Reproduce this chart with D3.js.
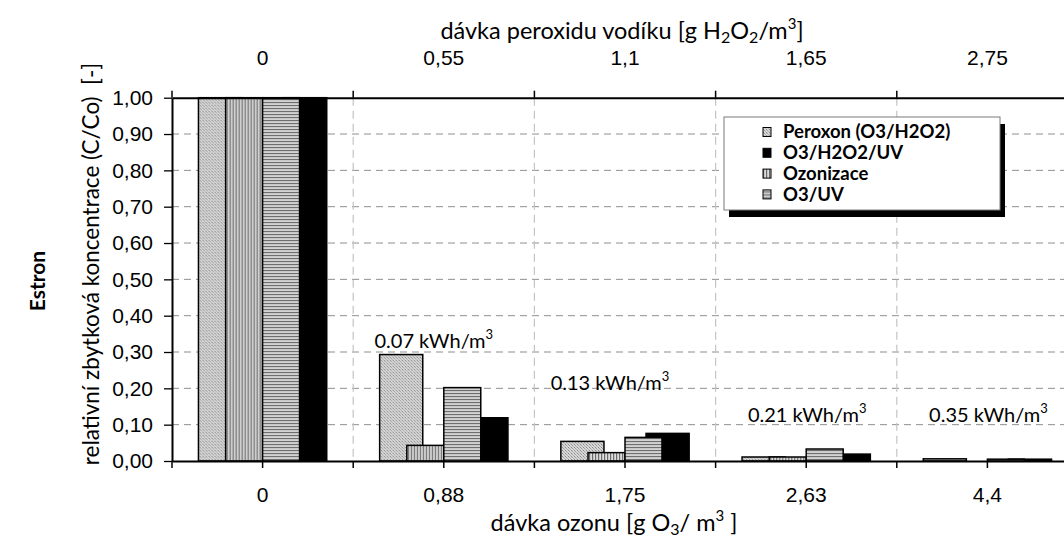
<!DOCTYPE html>
<html>
<head>
<meta charset="utf-8">
<script src="https://cdn.jsdelivr.net/npm/d3@7"></script>
<style>
  body { margin: 0; background: #fff; }
  svg { display: block; font-family: Lato, "Open Sans", sans-serif; }
</style>
</head>
<body>
<svg id="chart" width="1064" height="537"></svg>
<script>
// Ozone dose categories (bottom axis) and matching hydrogen peroxide doses (top axis)
const ozoneDoses = ["0", "0,88", "1,75", "2,63", "4,4"];
const peroxideDoses = ["0", "0,55", "1,1", "1,65", "2,75"];
// Energy demand per dose step (kWh/m3); none for the untreated sample
const energyLabels = [null, "0.07", "0.13", "0.21", "0.35"];

// Relative residual concentration C/Co of estrone
const peroxon   = [1.00, 0.293, 0.054, 0.011, 0.006];
const o3h2o2uv  = [1.00, 0.119, 0.076, 0.019, 0.005];
const ozonizace = [1.00, 0.043, 0.023, 0.011, 0.000];
const o3uv      = [1.00, 0.202, 0.065, 0.033, 0.005];

const yTicks = [0, 0.1, 0.2, 0.3, 0.4, 0.5, 0.6, 0.7, 0.8, 0.9, 1.0];

const seriesNames = {
  peroxon: "Peroxon (O3/H2O2)",
  o3h2o2uv: "O3/H2O2/UV",
  ozonizace: "Ozonizace",
  o3uv: "O3/UV"
};
const seriesValues = { peroxon, o3h2o2uv, ozonizace, o3uv };
const legendOrder = ["peroxon", "o3h2o2uv", "ozonizace", "o3uv"];

const svg = d3.select("#chart");
const plot = { left: 172, right: 1078, top: 97.7, bottom: 461 };

const x = d3.scaleBand().domain(ozoneDoses).range([plot.left, plot.right]).padding(0);
const y = d3.scaleLinear().domain([0, 1]).range([plot.bottom, plot.top]);
const bw = x.bandwidth();

// Two overlapping bar layers inside each category: the wide pair behind, the narrow pair in front
const backScale = d3.scaleBand().domain(["peroxon", "o3h2o2uv"])
  .range([-0.354 * bw, 0.354 * bw]).paddingInner(0.494).paddingOuter(0);
const frontScale = d3.scaleBand().domain(["ozonizace", "o3uv"])
  .range([-0.204 * bw, 0.204 * bw]).paddingInner(0).paddingOuter(0);

// Fill patterns
const defs = svg.append("defs");
function pattern(id, w, h, draw) {
  const p = defs.append("pattern").attr("id", id).attr("patternUnits", "userSpaceOnUse")
    .attr("width", w).attr("height", h);
  draw(p);
}
pattern("pat-peroxon", 3, 3, p => {
  p.append("rect").attr("width", 3).attr("height", 3).attr("fill", "#d6d6d6");
  p.append("rect").attr("x", 0).attr("y", 0).attr("width", 1).attr("height", 1).attr("fill", "#8a8a8a");
  p.append("rect").attr("x", 1).attr("y", 1).attr("width", 1).attr("height", 1).attr("fill", "#a0a0a0");
  p.append("rect").attr("x", 2).attr("y", 2).attr("width", 1).attr("height", 1).attr("fill", "#b4b4b4");
});
pattern("pat-ozonizace", 3, 3, p => {
  p.append("rect").attr("width", 3).attr("height", 3).attr("fill", "#dcdcdc");
  p.append("rect").attr("x", 0).attr("width", 1.2).attr("height", 3).attr("fill", "#6a6a6a");
});
pattern("pat-o3uv", 3, 3, p => {
  p.append("rect").attr("width", 3).attr("height", 3).attr("fill", "#d2d2d2");
  p.append("rect").attr("y", 0).attr("width", 3).attr("height", 1.1).attr("fill", "#6e6e6e");
});
const fills = {
  peroxon: "url(#pat-peroxon)",
  o3h2o2uv: "#000",
  ozonizace: "url(#pat-ozonizace)",
  o3uv: "url(#pat-o3uv)"
};

const fmt = d => d3.format(".2f")(d).replace(".", ",");

// Horizontal dashed gridlines
svg.append("g").selectAll("line").data(yTicks.filter(t => t > 0 && t < 1)).join("line")
  .attr("x1", plot.left).attr("x2", plot.right)
  .attr("y1", d => y(d)).attr("y2", d => y(d))
  .attr("stroke", "#8f8f8f").attr("stroke-width", 1).attr("stroke-dasharray", "7,5");

// Vertical dashed gridlines at category boundaries
svg.append("g").selectAll("line").data(ozoneDoses.slice(1)).join("line")
  .attr("x1", d => x(d)).attr("x2", d => x(d))
  .attr("y1", plot.top).attr("y2", plot.bottom)
  .attr("stroke", "#c4c4c4").attr("stroke-width", 1.2).attr("stroke-dasharray", "8,5");

// Bars
const groups = svg.append("g").selectAll("g").data(ozoneDoses).join("g")
  .attr("transform", d => `translate(${x(d) + bw / 2},0)`);

function drawLayer(keys, scale) {
  keys.forEach(k => {
    groups.append("rect")
      .attr("x", scale(k))
      .attr("width", scale.bandwidth())
      .attr("y", (d, i) => y(seriesValues[k][i]))
      .attr("height", (d, i) => y(0) - y(seriesValues[k][i]))
      .attr("fill", fills[k])
      .attr("stroke", "#000").attr("stroke-width", 1.5)
      .attr("display", (d, i) => seriesValues[k][i] > 0 ? null : "none");
  });
}
drawLayer(["peroxon", "o3h2o2uv"], backScale);
drawLayer(["ozonizace", "o3uv"], frontScale);

// Left axis
const yAxis = svg.append("g").attr("transform", `translate(${plot.left},0)`)
  .call(d3.axisLeft(y).tickValues(yTicks).tickFormat(fmt).tickSize(8).tickSizeOuter(0).tickPadding(11));
yAxis.select(".domain").attr("stroke-width", 2);
yAxis.selectAll(".tick line").attr("stroke-width", 1.3);
yAxis.selectAll("text").attr("font-size", 21).attr("fill", "#000");

// Bottom axis: labels and ticks at category centers, extra ticks at boundaries
const xAxis = svg.append("g").attr("transform", `translate(0,${plot.bottom})`)
  .call(d3.axisBottom(x).tickSize(7).tickSizeOuter(0).tickPadding(19));
xAxis.select(".domain").attr("stroke-width", 2);
xAxis.selectAll(".tick line").attr("stroke-width", 1.5);
xAxis.selectAll("text").attr("font-size", 21).attr("fill", "#000");
svg.append("g").selectAll("line").data(ozoneDoses).join("line")
  .attr("x1", d => x(d)).attr("x2", d => x(d))
  .attr("y1", plot.bottom).attr("y2", plot.bottom + 7)
  .attr("stroke", "#000").attr("stroke-width", 1.5);

// Top axis: peroxide doses, ticks at boundaries
const xTop = d3.scaleBand().domain(peroxideDoses).range([plot.left, plot.right]).padding(0);
const topAxis = svg.append("g").attr("transform", `translate(0,${plot.top})`)
  .call(d3.axisTop(xTop).tickSize(0).tickSizeOuter(0).tickPadding(33));
topAxis.select(".domain").attr("stroke-width", 2);
topAxis.selectAll("text").attr("font-size", 21).attr("fill", "#000");
svg.append("g").selectAll("line").data(peroxideDoses).join("line")
  .attr("x1", d => xTop(d)).attr("x2", d => xTop(d))
  .attr("y1", plot.top - 7).attr("y2", plot.top)
  .attr("stroke", "#000").attr("stroke-width", 1.5);

// Energy demand annotations above each treated group
const annotationPos = [null, { dx: -10, v: 0.33 }, { dx: -15, v: 0.215 }, { dx: 1, v: 0.127 }, { dx: 1, v: 0.127 }];
energyLabels.forEach((lab, i) => {
  if (!lab) return;
  const t = svg.append("text")
    .attr("x", x(ozoneDoses[i]) + bw / 2 + annotationPos[i].dx)
    .attr("y", y(annotationPos[i].v) + 7)
    .attr("text-anchor", "middle").attr("font-size", 20).attr("fill", "#000");
  t.append("tspan").text(lab + " kWh/m");
  t.append("tspan").attr("font-size", 13).attr("dy", -9).text("3");
});

// Axis titles
const topTitle = svg.append("text").attr("x", 622).attr("y", 39)
  .attr("text-anchor", "middle").attr("font-size", 23.5).attr("fill", "#000");
topTitle.append("tspan").text("dávka peroxidu vodíku [g H");
topTitle.append("tspan").attr("font-size", 16).attr("dy", 4).text("2");
topTitle.append("tspan").attr("dy", -4).text("O");
topTitle.append("tspan").attr("font-size", 16).attr("dy", 4).text("2");
topTitle.append("tspan").attr("dy", -4).text("/m");
topTitle.append("tspan").attr("font-size", 15).attr("dy", -10).text("3");
topTitle.append("tspan").attr("dy", 10).text("]");

const bottomTitle = svg.append("text").attr("x", 614).attr("y", 531)
  .attr("text-anchor", "middle").attr("font-size", 23.5).attr("fill", "#000");
bottomTitle.append("tspan").text("dávka ozonu [g O");
bottomTitle.append("tspan").attr("font-size", 16).attr("dy", 4).text("3");
bottomTitle.append("tspan").attr("dy", -4).text("/ m");
bottomTitle.append("tspan").attr("font-size", 15).attr("dy", -10).text("3");
bottomTitle.append("tspan").attr("dy", 10).text(" ]");

svg.append("text").attr("transform", "translate(99,264) rotate(-90)")
  .attr("text-anchor", "middle").attr("font-size", 22.5).attr("fill", "#000")
  .style("white-space", "pre")
  .text("relativní zbytková koncentrace (C/Co)  [-]");

svg.append("text").attr("transform", "translate(45,281) rotate(-90)")
  .attr("text-anchor", "middle").attr("font-size", 21).attr("font-weight", "bold").attr("fill", "#000")
  .text("Estron");

// Legend with drop shadow
const lg = { x: 724, y: 117, w: 276, h: 93 };
svg.append("rect").attr("x", lg.x + 5).attr("y", lg.y + 7).attr("width", lg.w).attr("height", lg.h).attr("fill", "#000");
svg.append("rect").attr("x", lg.x).attr("y", lg.y).attr("width", lg.w).attr("height", lg.h)
  .attr("fill", "#fff").attr("stroke", "#7a7a7a").attr("stroke-width", 1);
const items = svg.append("g").selectAll("g").data(legendOrder).join("g")
  .attr("transform", (d, i) => `translate(${lg.x + 39},${lg.y + 15 + i * 20.8})`);
items.append("rect").attr("x", 0).attr("y", -4.5).attr("width", 8).attr("height", 9)
  .attr("fill", d => fills[d]).attr("stroke", "#000").attr("stroke-width", 1);
items.append("text").attr("x", 20).attr("y", 0).attr("dy", "0.35em")
  .attr("font-size", 18.5).attr("font-weight", "bold").attr("fill", "#000")
  .text(d => seriesNames[d]);
</script>
</body>
</html>
